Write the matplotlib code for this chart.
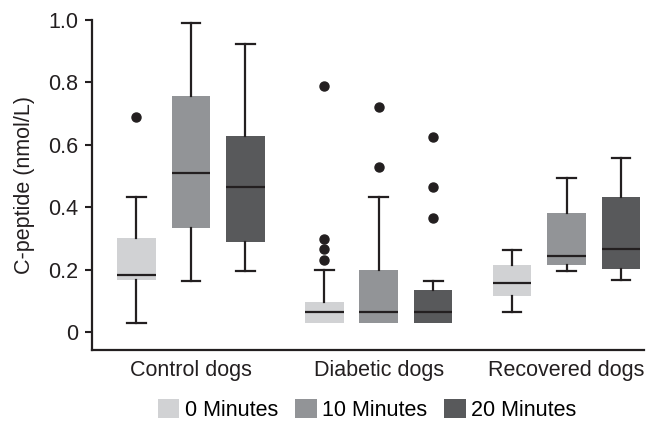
import matplotlib
matplotlib.use("Agg")
import matplotlib.pyplot as plt
from matplotlib.patches import Patch

plt.rcParams['font.family'] = ['Liberation Sans', 'DejaVu Sans']

groups = ["Control dogs", "Diabetic dogs", "Recovered dogs"]
series = ["0 Minutes", "10 Minutes", "20 Minutes"]
colors = ["#d1d2d4", "#929497", "#58595b"]

# [whislo, q1, median, q3, whishi] per group per series
stats = {
    "Control dogs": [
        [0.030, 0.168, 0.184, 0.300, 0.433],
        [0.163, 0.334, 0.509, 0.758, 0.989],
        [0.195, 0.289, 0.466, 0.627, 0.924],
    ],
    "Diabetic dogs": [
        [0.028, 0.028, 0.065, 0.096, 0.199],
        [0.030, 0.030, 0.064, 0.199, 0.431],
        [0.030, 0.030, 0.064, 0.135, 0.162],
    ],
    "Recovered dogs": [
        [0.063, 0.116, 0.157, 0.214, 0.262],
        [0.194, 0.216, 0.243, 0.380, 0.495],
        [0.165, 0.203, 0.266, 0.433, 0.558],
    ],
}
fliers = {
    "Control dogs": [[0.690], [], []],
    "Diabetic dogs": [[0.788, 0.297, 0.265, 0.231], [0.720, 0.528], [0.626, 0.466, 0.366]],
    "Recovered dogs": [[], [], []],
}

FS = 15.5
fig = plt.figure(figsize=(6.5, 4.23), dpi=100)
ax = fig.add_axes([0.1415, 0.1726, 0.85, 0.78])

offsets = [-0.29, 0.0, 0.29]
dark = "#231f20"
for gi, g in enumerate(groups):
    for si in range(3):
        wl, q1, med, q3, wh = stats[g][si]
        st = dict(whislo=wl, q1=q1, med=med, q3=q3, whishi=wh, fliers=fliers[g][si])
        pos = gi + offsets[si]
        art = ax.bxp([st], positions=[pos], widths=0.205, patch_artist=True,
                     showfliers=True, capwidths=0.1,
                     boxprops=dict(facecolor=colors[si], edgecolor='none', linewidth=0),
                     medianprops=dict(color=dark, linewidth=1.6),
                     whiskerprops=dict(color=dark, linewidth=1.6),
                     capprops=dict(color=dark, linewidth=1.6),
                     flierprops=dict(marker='o', markerfacecolor=dark, markeredgecolor=dark,
                                     markersize=6.5, linestyle='none'))
        if wl >= q1:
            art['caps'][0].set_visible(False)
            art['whiskers'][0].set_visible(False)

ax.set_xlim(-0.527, 2.415)
ax.set_ylim(-0.058, 1.0)
ax.set_xticks(range(len(groups)))
ax.set_xticklabels(groups, fontsize=FS, color=dark)
ax.tick_params(axis='x', length=0, pad=7)
ax.set_yticks([0, 0.2, 0.4, 0.6, 0.8, 1.0])
ax.set_yticklabels(["0", "0.2", "0.4", "0.6", "0.8", "1.0"], fontsize=FS, color=dark)
ax.tick_params(axis='y', length=5, width=1.5, color=dark, pad=5)
ax.set_ylabel("C-peptide (nmol/L)", fontsize=FS, color=dark, labelpad=9)
for s in ['top', 'right']:
    ax.spines[s].set_visible(False)
for s in ['left', 'bottom']:
    ax.spines[s].set_linewidth(1.6)
    ax.spines[s].set_color(dark)

handles = [Patch(facecolor=c, edgecolor='none', label=l) for c, l in zip(colors, series)]
fig.legend(handles=handles, loc='center', bbox_to_anchor=(0.565, 0.031), ncol=3,
           frameon=False, fontsize=FS, handlelength=1.0, handleheight=1.0,
           handletextpad=0.25, columnspacing=0.8, borderpad=0)

fig.savefig("out.png", dpi=100)
